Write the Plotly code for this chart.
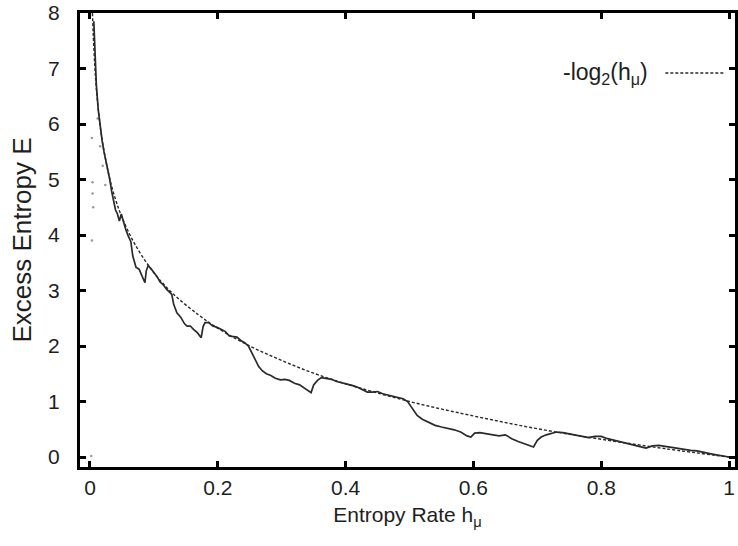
import plotly.graph_objects as go

# Dashed reference curve -log2(h_mu)
ref_h = [0.0039, 0.005, 0.0075, 0.01, 0.015, 0.02, 0.03, 0.04, 0.05, 0.07, 0.1, 0.13,
         0.17, 0.2, 0.25, 0.3, 0.35, 0.4, 0.5, 0.6, 0.7, 0.8, 0.9, 1.0]
ref_E = [8.0, 7.64, 7.06, 6.64, 6.06, 5.64, 5.06, 4.64, 4.32, 3.84, 3.32, 2.94,
         2.56, 2.32, 2.0, 1.74, 1.51, 1.32, 1.0, 0.74, 0.51, 0.32, 0.15, 0.0]

data_h = [0.006, 0.008, 0.010, 0.013, 0.016, 0.019, 0.022, 0.025, 0.028, 0.031, 0.034, 0.037,
          0.040, 0.043, 0.046, 0.049, 0.052, 0.056, 0.060, 0.064, 0.067, 0.072, 0.077, 0.082,
          0.086, 0.088, 0.091, 0.095, 0.100, 0.105, 0.110, 0.115, 0.120, 0.125, 0.128, 0.131,
          0.136, 0.142, 0.148, 0.152, 0.157, 0.162, 0.168, 0.174, 0.177, 0.180, 0.186, 0.192,
          0.198, 0.205, 0.212, 0.218, 0.224, 0.230, 0.236, 0.242, 0.248, 0.252, 0.258, 0.264,
          0.270, 0.276, 0.283, 0.290, 0.298, 0.305, 0.312, 0.320, 0.328, 0.335, 0.340, 0.346,
          0.350, 0.356, 0.362, 0.370, 0.378, 0.386, 0.394, 0.402, 0.410, 0.418, 0.426, 0.434,
          0.442, 0.450, 0.458, 0.466, 0.474, 0.482, 0.490, 0.497, 0.505, 0.512, 0.520, 0.530,
          0.540, 0.550, 0.560, 0.570, 0.580, 0.590, 0.596, 0.602, 0.610, 0.620, 0.630, 0.640,
          0.650, 0.660, 0.670, 0.680, 0.690, 0.694, 0.700, 0.706, 0.714, 0.722, 0.730, 0.740,
          0.750, 0.760, 0.770, 0.780, 0.790, 0.800, 0.810, 0.820, 0.830, 0.840, 0.850, 0.860,
          0.870, 0.880, 0.890, 0.900, 0.910, 0.920, 0.930, 0.940, 0.950, 0.960, 0.970, 0.980,
          0.990, 1.000]
data_E = [7.85, 7.2, 6.7, 6.25, 5.95, 5.7, 5.5, 5.33, 5.2, 5.0, 4.78, 4.62,
          4.45, 4.38, 4.25, 4.38, 4.25, 4.1, 3.98, 3.88, 3.62, 3.42, 3.38, 3.25,
          3.14, 3.35, 3.45, 3.40, 3.33, 3.25, 3.15, 3.10, 3.02, 2.97, 2.93, 2.75,
          2.60, 2.52, 2.40, 2.36, 2.36, 2.30, 2.24, 2.15, 2.35, 2.42, 2.42, 2.36,
          2.34, 2.30, 2.26, 2.18, 2.17, 2.16, 2.10, 2.06, 2.00, 1.90, 1.75, 1.63,
          1.55, 1.50, 1.47, 1.42, 1.39, 1.40, 1.38, 1.33, 1.30, 1.25, 1.20, 1.16,
          1.30, 1.38, 1.43, 1.42, 1.40, 1.36, 1.34, 1.32, 1.29, 1.26, 1.22, 1.17,
          1.17, 1.18, 1.14, 1.12, 1.10, 1.08, 1.05, 1.00, 0.86, 0.75, 0.68, 0.62,
          0.57, 0.54, 0.52, 0.49, 0.45, 0.38, 0.36, 0.43, 0.44, 0.42, 0.40, 0.38,
          0.40, 0.33, 0.28, 0.24, 0.19, 0.18, 0.30, 0.36, 0.40, 0.43, 0.45, 0.44,
          0.42, 0.40, 0.38, 0.35, 0.37, 0.37, 0.33, 0.30, 0.27, 0.24, 0.21, 0.18,
          0.16, 0.20, 0.21, 0.19, 0.17, 0.15, 0.14, 0.12, 0.11, 0.08, 0.06, 0.04,
          0.02, 0.0]

# Faint scattered points near h = 0
scatter_h = [0.003, 0.004, 0.004, 0.005, 0.003, 0.002, 0.012, 0.016, 0.020, 0.024]
scatter_E = [5.75, 4.95, 4.75, 4.50, 3.90, 0.02, 6.10, 5.60, 5.25, 4.90]

x_ticks = [0, 0.2, 0.4, 0.6, 0.8, 1]
x_labels = ["0", "0.2", "0.4", "0.6", "0.8", "1"]
y_ticks = [0, 1, 2, 3, 4, 5, 6, 7, 8]

FONT = "Liberation Sans, Arial, sans-serif"
TXT = "#1e1e1e"

L, T, B = 80, 13, 467
PW, PH = 738 - L, B - T

fig = go.Figure()
fig.add_trace(go.Scatter(x=scatter_h, y=scatter_E, mode="markers",
                         marker=dict(size=2.5, color="#9a9a9a"), showlegend=False,
                         hoverinfo="skip"))
fig.add_trace(go.Scatter(x=data_h, y=data_E, mode="lines",
                         line=dict(color="#2a2a2a", width=1.7), showlegend=False))
fig.add_trace(go.Scatter(x=ref_h, y=ref_E, mode="lines", line_shape="spline",
                         line=dict(color="#2a2a2a", width=1.4, dash="3px,2px"),
                         showlegend=False))

# legend drawn in gnuplot style (text then sample)
fig.add_annotation(xref="paper", yref="paper", x=(653 - L) / PW, y=(B - 73) / PH,
                   text="-log<sub>2</sub>(h<sub>μ</sub>)", showarrow=False,
                   xanchor="right", yanchor="middle",
                   font=dict(family=FONT, size=23, color=TXT))
fig.add_shape(type="line", xref="paper", yref="paper",
              x0=(668 - L) / PW, x1=(728 - L) / PW,
              y0=(B - 73) / PH, y1=(B - 73) / PH,
              line=dict(color="#2a2a2a", width=1.4, dash="3px,2px"))

axis_common = dict(showline=True, linecolor="black", linewidth=3, mirror="ticks",
                   ticks="inside", ticklen=6, tickwidth=3, tickcolor="black",
                   showgrid=False, zeroline=False,
                   tickfont=dict(family=FONT, size=21, color=TXT))

fig.update_layout(
    width=738, height=546,
    margin=dict(l=L, r=0, t=T, b=546 - B),
    plot_bgcolor="white", paper_bgcolor="white",
    xaxis=dict(range=[-0.0156, 1.0093], tickvals=x_ticks, ticktext=x_labels,
               title=dict(text="Entropy Rate h<sub>μ</sub>",
                          font=dict(family=FONT, size=21, color=TXT), standoff=10),
               **axis_common),
    yaxis=dict(range=[-0.18, 8.0], tickvals=y_ticks, ticklabelstandoff=13,
               title=dict(text="Excess Entropy E",
                          font=dict(family=FONT, size=26, color=TXT), standoff=10),
               **axis_common),
)

fig.write_html("out.html")
